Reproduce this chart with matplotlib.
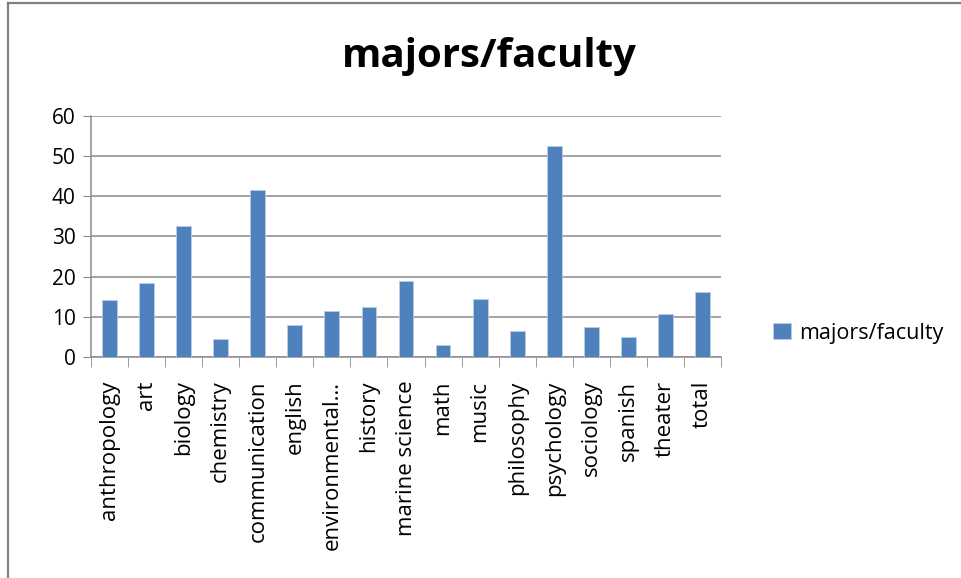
import numpy as np
import matplotlib
matplotlib.use('Agg')
import matplotlib.pyplot as plt
from matplotlib.lines import Line2D

plt.rcParams['font.family'] = ['Open Sans', 'DejaVu Sans']

# Data
categories = ['anthropology', 'art', 'biology', 'chemistry', 'communication',
              'english', 'environmental…', 'history', 'marine science', 'math',
              'music', 'philosophy', 'psychology', 'sociology', 'spanish',
              'theater', 'total']
ratios = [14.1, 18.3, 32.6, 4.6, 41.5, 8.0, 11.5, 12.5, 18.9, 2.9,
          14.4, 6.5, 52.6, 7.4, 4.9, 10.6, 16.1]
series_name = 'majors/faculty'
yticks = [0, 10, 20, 30, 40, 50, 60]

bar_color = '#4F81BD'
grid_color = '#8C8C8C'

fig = plt.figure(figsize=(9.62, 5.78), dpi=100)
ax = fig.add_axes([91 / 962, 1 - 357 / 578, (721 - 91) / 962, (357 - 116) / 578])

x = np.arange(len(categories))
bars = ax.bar(x, ratios, width=0.4, color=bar_color, edgecolor='#B9CDE5',
              linewidth=0.6, label=series_name, zorder=3)

ax.set_xlim(-0.5, len(categories) - 0.5)
ax.set_ylim(0, 60)
ax.set_yticks(yticks)
ax.tick_params(axis='y', labelsize=15, length=6, color=grid_color,
               direction='out', pad=5)
ax.yaxis.grid(True, color=grid_color, linewidth=1.1, zorder=0)

# category labels, tick marks between categories
ax.set_xticks(x)
ax.set_xticklabels(categories, rotation=90, fontsize=16, va='top')
ax.tick_params(axis='x', which='major', length=0, pad=17)
ax.set_xticks(np.arange(len(categories) + 1) - 0.5, minor=True)
ax.tick_params(axis='x', which='minor', length=7, color=grid_color,
               direction='out')

for side in ['top', 'right']:
    ax.spines[side].set_visible(False)
for side in ['left', 'bottom']:
    ax.spines[side].set_color(grid_color)
    ax.spines[side].set_linewidth(1.1)

fig.text(489 / 962, 1 - 57 / 578, series_name, ha='center', va='center',
         fontsize=29, fontweight='bold')

fig.legend(handles=[bars], labels=[series_name], loc='center left',
           bbox_to_anchor=(754 / 962, 1 - 333 / 578), frameon=False,
           fontsize=15.5, handlelength=0.8, handleheight=0.8,
           handletextpad=0.4)

# chart border (left and top edges visible in the reference)
fig.add_artist(Line2D([8 / 962, 8 / 962], [0, 1 - 3 / 578],
                      transform=fig.transFigure, color='#808080', linewidth=1.6))
fig.add_artist(Line2D([8 / 962, 1], [1 - 3 / 578, 1 - 3 / 578],
                      transform=fig.transFigure, color='#808080', linewidth=1.6))

fig.savefig('out.png', dpi=100)
